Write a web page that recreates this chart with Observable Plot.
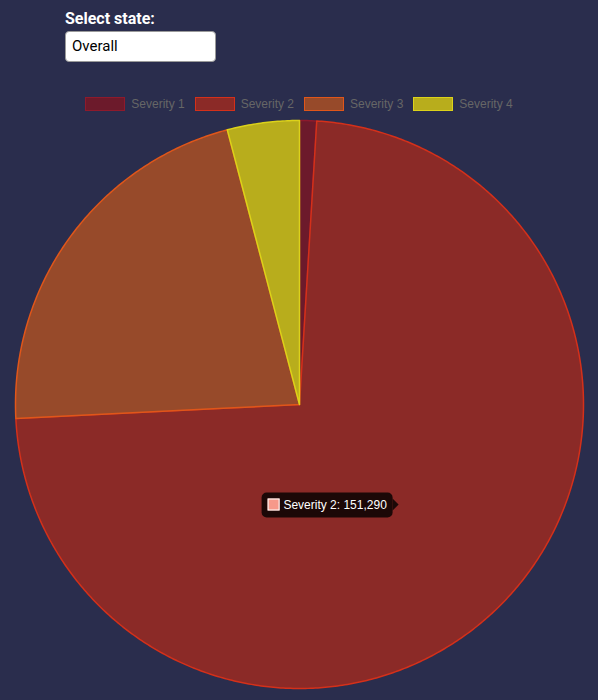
<!DOCTYPE html>
<html><head><meta charset="utf-8">
<script src="https://cdn.jsdelivr.net/npm/d3@7"></script>
<script src="https://cdn.jsdelivr.net/npm/@observablehq/plot@0.6"></script>
<style>
html,body{margin:0;padding:0;}
body{background:#2a2d4d;width:598px;height:700px;overflow:hidden;position:relative;font-family:"Liberation Sans",Arial,sans-serif;}
#label{position:absolute;left:65px;top:9px;color:#fff;font:bold 16px Roboto,"Noto Sans",sans-serif;}
#input{position:absolute;left:65px;top:31px;width:149px;height:29px;background:#fff;border:1px solid #9a9a9a;border-radius:4px;box-sizing:content-box;color:#000;font:15px Roboto,"Noto Sans",sans-serif;line-height:29px;padding:0;}
#input span{margin-left:6px;}
#legend{position:absolute;left:0;top:96px;width:598px;display:flex;justify-content:center;gap:10px;font:12px "Liberation Sans",Arial,sans-serif;color:#666;}
.item{display:flex;align-items:center;height:15px;}
.box{width:38px;height:12px;border:1px solid;margin-right:6px;}
#chart{position:absolute;left:0;top:116px;}
#tip{position:absolute;background:rgba(0,0,0,0.8);color:#fff;font:12px "Liberation Sans",Arial,sans-serif;border-radius:5px;padding:0 6px;height:25px;display:flex;align-items:center;white-space:nowrap;transform:translate(-100%,-50%);}
#tip .sq{width:10px;height:10px;border:1px solid #fff;margin-right:4px;}
#tip:after{content:"";position:absolute;right:-6px;top:50%;margin-top:-6px;border-top:6px solid transparent;border-bottom:6px solid transparent;border-left:6px solid rgba(0,0,0,0.8);}
</style></head><body>
<div id="label"></div>
<div id="input"><span></span></div>
<div id="legend"></div>
<div id="chart"></div>
<div id="tip"></div>
<script>
// ---- data ----
const categories = ["Severity 1", "Severity 2", "Severity 3", "Severity 4"];
const counts = [2000, 151290, 44800, 8450];
const fillColors = ["#6c1a2b", "#8b2a27", "#974a2a", "#b8ad1c"];
const borderColors = ["#8e1a2c", "#d4301a", "#e0561a", "#dcd21a"];
const tipSwatch = "#f6998a";
const selectLabel = "Select state:";
const selectValue = "Overall";
const hoveredIndex = 1;

// ---- layout ----
const W = 598, H = 576, INSET = 4, SVG_TOP = 116;

document.getElementById("label").textContent = selectLabel;
document.querySelector("#input span").textContent = selectValue;

// legend
const legend = d3.select("#legend");
categories.forEach((c, i) => {
  const it = legend.append("div").attr("class", "item");
  it.append("div").attr("class", "box").style("background", fillColors[i]).style("border-color", borderColors[i]);
  it.append("span").text(c);
});

// pie angles (0 at top, clockwise)
const data = categories.map((c, i) => ({category: c, count: counts[i], border: borderColors[i]}));
const arcs = d3.pie().sort(null).value(d => d.count)(data);
const deg = r => r * 180 / Math.PI;

// slices as spherical sectors around the north pole (azimuthal projection)
const features = arcs.map(a => {
  const t0 = deg(a.startAngle), t1 = deg(a.endAngle);
  const n = Math.max(2, Math.ceil((t1 - t0) / 0.5));
  const ring = [[0, 90]];
  for (let k = 0; k <= n; k++) ring.push([180 - (t0 + (t1 - t0) * k / n), 0]);
  ring.push([0, 90]);
  return {type: "Feature", properties: a.data, geometry: {type: "Polygon", coordinates: [ring]}};
});
const collection = {type: "FeatureCollection", features};

const chart = Plot.plot({
  width: W, height: H, margin: 0,
  style: {background: "transparent"},
  projection: {type: "azimuthal-equidistant", rotate: [0, -90], domain: collection, inset: INSET},
  color: {domain: categories, range: fillColors},
  marks: features.map(f => Plot.geo([f], {
    fill: d => d.properties.category,
    stroke: f.properties.border,
    strokeWidth: 1.5
  }))
});
document.getElementById("chart").appendChild(chart);

// tooltip at the hovered slice's centroid (mid-angle, half radius)
const R = Math.min(W, H) / 2 - INSET;
const cx = W / 2, cy = SVG_TOP + H / 2;
const a = arcs[hoveredIndex];
const mid = (a.startAngle + a.endAngle) / 2;
const tx = cx + R / 2 * Math.sin(mid), ty = cy - R / 2 * Math.cos(mid);
const tip = d3.select("#tip").style("left", (tx - 6) + "px").style("top", ty + "px");
tip.append("div").attr("class", "sq").style("background", tipSwatch);
tip.append("span").text(`${categories[hoveredIndex]}: ${d3.format(",")(counts[hoveredIndex])}`);
</script>
</body></html>
